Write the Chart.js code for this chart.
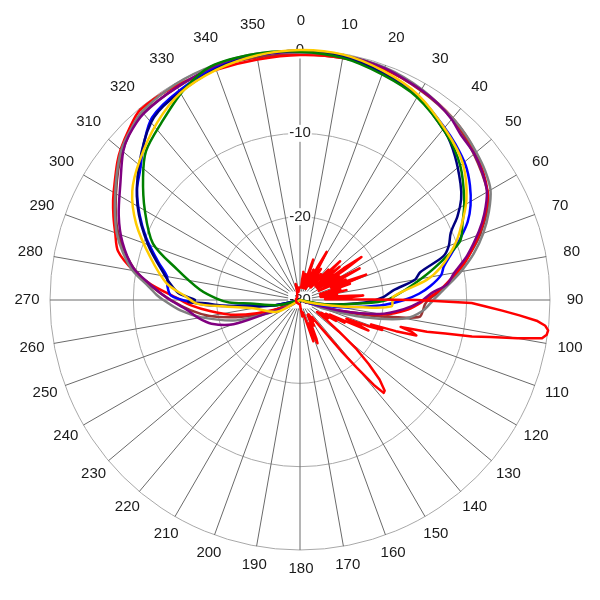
<!DOCTYPE html>
<html>
<head>
<meta charset="utf-8">
<script src="https://cdn.jsdelivr.net/npm/chart.js@4.4.1/dist/chart.umd.min.js"></script>
<style>
  html, body { margin: 0; padding: 0; background: #fff; }
  #wrap { width: 600px; height: 600px; }
</style>
</head>
<body>
<div id="wrap"><canvas id="chart" width="600" height="600"></canvas></div>
<script>
// angle labels printed round the rim (degrees)
var angleTicks = [0,10,20,30,40,50,60,70,80,90,100,110,120,130,140,150,160,170,
                  180,190,200,210,220,230,240,250,260,270,280,290,300,310,320,330,340,350];
// radial tick labels (dB)
var levelTicks = [-30, -20, -10, 0];

// horizontal patterns: angle (deg) / level (dB)
var grayAngles  = [0,10,20,30,40,45,50,55,60,65,70,75,80,85,90,95,100,105,110,120,240,245,250,253,260,265,270,272,275,280,285,290,295,300,305,310,315,320,330,340,350];
var grayValues  = [-0.3,-0.2,-0.3,-0.8,-1.5,-1.9,-2.4,-2.9,-3.6,-5.0,-6.6,-8.4,-10.4,-12.4,-14.0,-15.2,-17.2,-22,-27,-30,-29,-27,-24,-21.6,-18,-15.6,-13.6,-12.8,-11.8,-9.6,-8.0,-6.6,-5.5,-4.4,-3.2,-2.0,-1.2,-0.5,-0.1,0,0];

var brownAngles = [0,20,40,60,70,80,86,90,92,95,98,100,103,108,115,240,250,260,270,280,290,300,310,320,340];
var brownValues = [-0.5,-0.5,-1.6,-4.0,-7.0,-10.8,-13,-14.6,-15.0,-15.2,-15.5,-18,-22,-27,-30,-30,-25,-19,-14.5,-10,-6.8,-4.5,-2.2,-0.7,-0.3];

var purpleAngles = [0,10,20,30,35,40,44,50,55,60,65,69,75,80,84,87,91,95,100,105,110,120,230,240,248,250,255,260,265,271,276,281,288,295,303,310,314,320,330,340,350];
var purpleValues = [-0.2,-0.2,-0.4,-0.9,-1.2,-1.7,-2.3,-2.7,-3.3,-4.1,-5.6,-7.0,-9.2,-11.2,-12.3,-14.2,-15.6,-17.5,-20.3,-25,-29,-30,-30,-28.5,-25.7,-21.5,-19,-17.6,-16.4,-14,-11.9,-9.6,-7.6,-6.0,-4.3,-2.3,-1.5,-0.8,-0.5,-0.2,-0.2];

var redHAngles = [0,10,20,30,40,50,60,66,70,74,78,82,86,90,95,100,105,110,235,245,253,258,263,267,271,276,280,285,290,294,298,302,307,310,315,320,330,340,350];
var redHValues = [-0.6,-0.5,-0.5,-0.9,-1.5,-2.5,-4.0,-5.8,-7.2,-8.6,-10,-11.7,-13.2,-15,-17,-20,-25,-30,-30,-28,-24.6,-21.5,-19.1,-17,-15.2,-12,-9.7,-7.4,-6.4,-5.5,-4.6,-3.75,-2.55,-1.9,-1.0,-0.2,-0.3,-0.6,-0.7];

var blueAngles = [0,10,20,30,40,45,51,56,61,65,69,73,77,80,84,87,90,94,100,105,110,250,258,264,266,269,272,276,280,285,292,298,304,309,315,321,330,340,350];
var blueValues = [-0.1,-0.3,-1.0,-1.7,-3.0,-3.6,-4.4,-5.4,-6.6,-7.8,-9.4,-11,-12.3,-12.8,-14.3,-15.7,-17.5,-20.4,-25,-28,-30,-30,-27,-24.4,-20,-16.8,-14.5,-14.0,-13.8,-12.4,-10.1,-8.2,-6.4,-5.3,-3.5,-1.8,-1.0,-0.4,-0.2];

var navyAngles = [0,10,20,30,41,47,54,58,62,66,70,73,77,80,84,88,92,96,100,105,110,250,258,263,266,268,269,270,273,276,280,290,300,310,320,327,340,350];
var navyValues = [-0.1,-0.3,-1.0,-1.8,-3.4,-4.6,-6.2,-7.2,-8.6,-10.2,-11.0,-12,-15.2,-16,-18.7,-20,-22,-25,-27,-29,-30,-30,-27,-23.6,-20.5,-18.6,-16.6,-17.4,-15.5,-14.6,-13.6,-10.6,-7.5,-4.8,-2.2,-1.4,-0.5,-0.2];

var greenAngles = [0,10,20,30,41,50,59,65,70,76,80,84,90,93,100,105,245,256,266,268,271,276,284,291,300,308,314,322,331,339,350];
var greenValues = [-0.2,-0.5,-1.2,-1.9,-3.4,-4.9,-7.0,-8.5,-9.6,-13.1,-15.2,-17.1,-19.6,-22.4,-27,-30,-30,-27.5,-24,-21.5,-20,-17.9,-14.8,-11.1,-8.5,-6.1,-4.3,-3.0,-1.2,0,0];

var yellowAngles = [0,10,20,30,41,50,59,67,71,77,81,88,94,97,100,105,110,240,243,260,265,268,272,277,286,295,303,311,321,330,340,350];
var yellowValues = [0,-0.1,-0.75,-1.6,-3.2,-4.5,-6.7,-9.2,-10.5,-12.7,-14.6,-18.8,-19.0,-23,-26,-29,-30,-30,-26.9,-24.3,-21,-17.6,-16.2,-13.9,-11.3,-8.3,-6.0,-4.5,-2.7,-1.3,-0.6,-0.2];

// vertical pattern (red lobes)
var redVAngles = [0,5,6,7,8,10,11,12,13,15,17,18,19,21,23,24,25,27,28,29,30,32,33,34,35,37,38,39,40,41,42,43,44,45,46,47,48,49,50,51,53,54,55,56,57,58,59,60,61,62,63,64,65,66,67,68,69,70,71,72,73,74,75,76,77,78,79,80,81,82,84,85,86,87,88,89,
                  90,91,92,93,94,95,96,97,98,99,100,101,102,103,104,105,106,107,108,109,110,111,112,113,114,115,116,117,118,120,121,123,125,127,129,
                  131,133,135,137,138,139,140,141,143,145,147,149,151,153,155,157,158,159,160,162,163,165,168,172,176,180,200,240,280,320,340,345,350,355];
var redVValues = [-28.5,-28.5,-27.5,-26.6,-27.5,-28.5,-27.8,-26.8,-27.8,-28.5,-26.5,-24.9,-26.5,-28.5,-27.5,-26,-27.5,-28.5,-25.5,-23.4,-25.5,-28,-27,-25.5,-27,-28,-27.5,-26,-27.5,-28,-27,-25,-26.5,-25.5,-23.3,-25.5,-27.5,-26,-23.8,-26,-27.5,-23.5,-21,-23.5,-27.5,-26.5,-24.5,-26.5,-24.5,-21.9,-24.5,-27.5,-26,-24,-26,-24,-21.5,-24,-26,-23.7,-26,-27.5,-25,-27.5,-26.5,-24.3,-26.5,-27.5,-25.5,-27.5,-26,-24,-22.4,-24,-27,-24,
                  -16,-9.4,-7.7,-5.7,-3.6,-1.5,-0.4,0,-0.1,-0.6,-3.5,-6.7,-8.9,-12.1,-14.3,-17.5,-16,-15.4,-17.9,-21,-19.5,-21.4,-24,-22.5,-21,-24,-26,-24,-26.5,-25,-27,-26,-27.5,-26,-24,
                  -21,-18.7,-16.5,-15.1,-15,-16.5,-19.5,-22,-26,-27.5,-27,-28,-26.5,-28,-27,-25,-24.4,-26,-27,-24.8,-26.5,-28,-28.5,-28,-29,-29.5,-29.5,-29.5,-29.5,-29.5,-29,-28,-29,-28.5];

var labels = [];
for (var a = 0; a < 360; a++) labels.push(a);

function buildSeries(angles, values) {
    var data = [];
    for (var i = 0; i < 360; i++) data.push(null);
    for (var j = 0; j < angles.length; j++) data[angles[j]] = values[j];
    return data;
}

function line(label, color, angles, values, tension) {
    return {
        label: label,
        data: buildSeries(angles, values),
        borderColor: color,
        backgroundColor: color,
        borderWidth: 2.5,
        pointRadius: 0,
        pointHoverRadius: 0,
        fill: false,
        tension: tension,
        spanGaps: true
    };
}

// first dataset is painted last (on top)
var datasets = [
    line('V', '#ff0000', redVAngles, redVValues, 0),
    line('yellow', '#ffcc00', yellowAngles, yellowValues, 0.3),
    line('green', '#008000', greenAngles, greenValues, 0.3),
    line('navy', '#000080', navyAngles, navyValues, 0.3),
    line('blue', '#0000ff', blueAngles, blueValues, 0.3),
    line('purple', '#800080', purpleAngles, purpleValues, 0.3),
    line('gray', '#808080', grayAngles, grayValues, 0.3),
    line('red', '#ff0000', redHAngles, redHValues, 0.3),
    line('brown', '#993333', brownAngles, brownValues, 0.3)
];

// rim labels: a little further out at the top than at the bottom, as in the original
var rimLabels = {
    id: 'rimLabels',
    afterDraw: function(chart) {
        var scale = chart.scales.r;
        var ctx = chart.ctx;
        ctx.save();
        ctx.font = '15px "Liberation Sans", Arial, sans-serif';
        ctx.fillStyle = '#1a1a1a';
        ctx.textAlign = 'center';
        ctx.textBaseline = 'middle';
        angleTicks.forEach(function(t) {
            var dist = scale.drawingArea + 24 + 5 * Math.cos(t * Math.PI / 180);
            var p = scale.getPointPosition(t, dist);
            ctx.fillText(String(t), p.x + 1, p.y);
        });
        ctx.restore();
    }
};

Chart.defaults.font.family = '"Liberation Sans", Arial, sans-serif';

new Chart(document.getElementById('chart'), {
    type: 'radar',
    data: { labels: labels, datasets: datasets },
    options: {
        responsive: false,
        animation: false,
        devicePixelRatio: 1,
        layout: { padding: 40 },
        plugins: { legend: { display: false }, tooltip: { enabled: false } },
        elements: { line: { borderJoinStyle: 'round' } },
        scales: {
            r: {
                min: levelTicks[0],
                max: levelTicks[levelTicks.length - 1],
                startAngle: 0,
                afterFit: function(scale) {
                    // plot circle: centre of the canvas, 250 px radius
                    scale.xCenter = 300;
                    scale.yCenter = 300;
                    scale.drawingArea = 250;
                },
                ticks: {
                    stepSize: 10,
                    color: '#222',
                    font: { size: 15 },
                    backdropColor: '#fff',
                    backdropPadding: 1,
                    showLabelBackdrop: true
                },
                grid: { circular: true, color: '#a8a8a8', lineWidth: 1 },
                angleLines: {
                    display: true,
                    color: '#6a6a6a',
                    lineWidth: function(c) { return c.index % 10 === 0 ? 1 : 0; }
                },
                pointLabels: { display: false }
            }
        }
    },
    plugins: [rimLabels]
});
</script>
</body>
</html>
